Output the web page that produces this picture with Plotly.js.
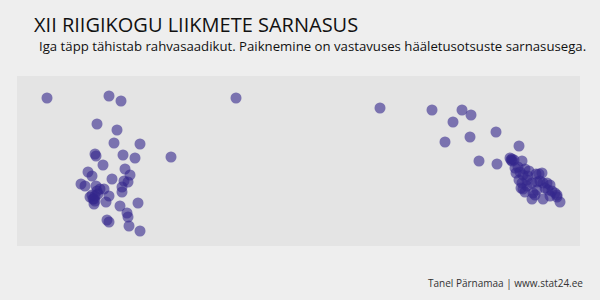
<!DOCTYPE html>
<html>
<head>
<meta charset="utf-8">
<script src="https://cdn.plot.ly/plotly-3.0.1.min.js"></script>
<style>html,body{margin:0;padding:0;background:#eeeeee;}#chart{width:600px;height:300px;}</style>
</head>
<body>
<div id="chart"></div>
<script>
// Positions of MPs in the 2D similarity map (units)
const leftX = [109,121,97,117,114,140,95,96,123,135,171,103,125,88,92,130,112,124,128,81,85,96,97,100,104,122,122,90,93,95,109,94,95,106,120,138,127,128,107,109,129,140,47,236,92,98,94];
const leftY = [96,101,124,130,143,144,154,156,155,158,157,165,169,172,176,175,179,181,182,184,186,186,191,189,189,187,192,197,199,196,196,204,201,202,206,203,213,217,220,222,226,231,98,98,195,194,199];
const rightX = [380,432,462,471,453,496,445,470,519,479,497,511,512,522,510,512,514,516,518,525,529,523,536,539,542,519,522,527,532,540,543,547,550,523,525,533,535,555,557,532,543,560,515,520,528,537,545,548,552,527,537,550,521,557];
const rightY = [108,110,110,115,122,132,142,137,146,161,164,160,159,161,158,161,160,173,167,169,171,175,174,174,173,180,183,180,183,181,183,183,185,189,192,193,195,193,195,199,199,202,168,172,176,182,188,190,191,186,190,196,188,197];

const data = [{
  type: 'scatter', mode: 'markers',
  x: leftX.concat(rightX), y: leftY.concat(rightY),
  marker: {size: 11, color: 'rgb(52,38,140)', opacity: 0.6, line: {width: 0}},
  hoverinfo: 'skip'
}];

const ax = {showgrid: false, zeroline: false, showticklabels: false, showline: false, ticks: ''};
const layout = {
  width: 600, height: 300,
  margin: {l: 17, r: 20, t: 76, b: 54},
  paper_bgcolor: '#eeeeee', plot_bgcolor: '#e4e4e4',
  showlegend: false,
  xaxis: Object.assign({range: [17, 580]}, ax),
  yaxis: Object.assign({range: [246, 76]}, ax),
  title: {
    text: 'XII RIIGIKOGU LIIKMETE SARNASUS',
    x: 34/600, xanchor: 'left', xref: 'container',
    y: 1 - 25/300, yanchor: 'middle', yref: 'container',
    font: {family: 'Open Sans, sans-serif', size: 20, color: '#111111'}
  },
  annotations: [
    {text: 'Iga täpp tähistab rahvasaadikut. Paiknemine on vastavuses hääletusotsuste sarnasusega.',
     xref: 'paper', yref: 'paper', x: (37-17)/563, y: (246-46)/170, xanchor: 'left', yanchor: 'middle',
     showarrow: false, font: {family: 'Open Sans, sans-serif', size: 13.2, color: '#111111'}},
    {text: 'Tanel Pärnamaa | www.stat24.ee',
     xref: 'paper', yref: 'paper', x: (585-17)/563, y: (246-283)/170, xanchor: 'right', yanchor: 'middle',
     showarrow: false, font: {family: 'Open Sans, sans-serif', size: 10, color: '#333333'}}
  ]
};
Plotly.newPlot('chart', data, layout, {displayModeBar: false, staticPlot: true});
</script>
</body>
</html>
